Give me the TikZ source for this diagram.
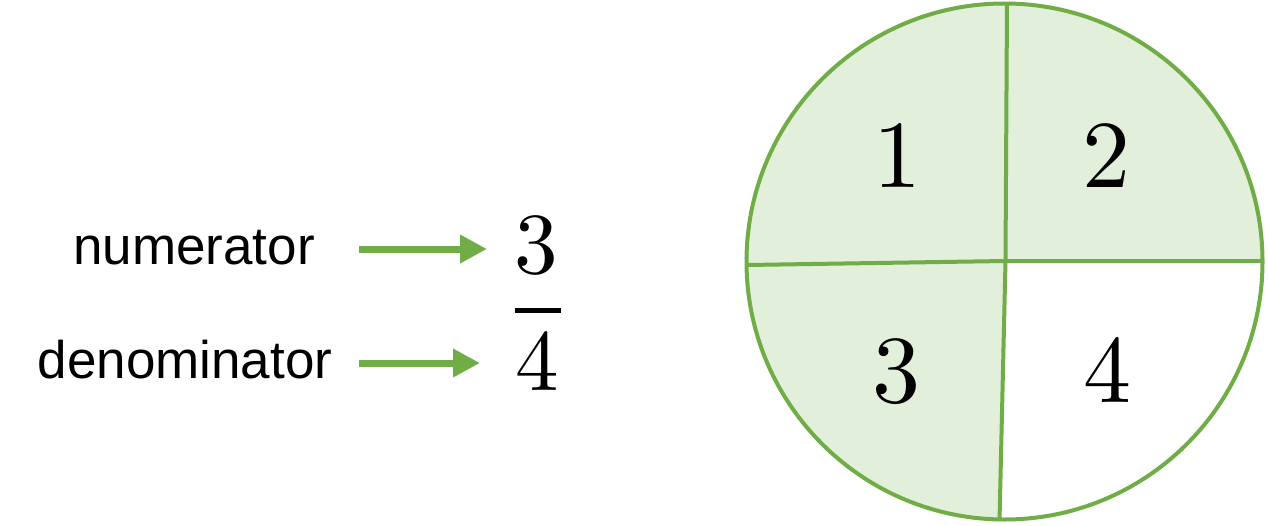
\documentclass[tikz,border=0pt]{standalone}
\usepackage{fontspec}
\newfontfamily\labfont{Liberation Sans}
\newfontfamily\digitfont{lmroman10-regular.otf}
\usetikzlibrary{arrows.meta}
\definecolor{ggreen}{HTML}{70AD47}
\definecolor{lgreen}{HTML}{E2EFDA}
\begin{document}
\begin{tikzpicture}[x=1pt,y=-1pt,
  lab/.style={font=\labfont\fontsize{53}{60}\selectfont, inner sep=0pt, anchor=base},
  bigdigit/.style={font=\digitfont\fontsize{96}{100}\selectfont, inner sep=0pt, anchor=base},
  fracdigit/.style={font=\digitfont\fontsize{87}{90}\selectfont, inner sep=0pt, anchor=base},
  greenarrow/.style={draw=ggreen, line width=7pt, -{Triangle[length=27pt,width=27pt]}},
  divline/.style={draw=ggreen, line width=4pt}]
\useasboundingbox (0,0) rectangle (1269,525);
\fill[white] (0,0) rectangle (1269,525);
% circle
\coordinate (c) at (1004.5,261.5);
\coordinate (o) at (1005.5,261);
\coordinate (top) at (1007,3);
\coordinate (bot) at (999.5,521);
\coordinate (lft) at (747,265);
\coordinate (rgt) at (1262,261);
\fill[lgreen] (c) circle[radius=258];
\begin{scope}
  \clip (c) circle[radius=258];
  \fill[white] (o) -- (1275,261) -- (1275,535) -- (999,535) -- cycle;
\end{scope}
\draw[divline] (top) -- (o) -- (bot);
\draw[divline] (lft) -- (o) -- (rgt);
\draw[ggreen, line width=4pt] (c) circle[radius=258];
% digits in circle
\node[bigdigit] (q1) at (897,187) {1};
\node[bigdigit] (q2) at (1106,187) {2};
\node[bigdigit] (q3) at (896,402) {3};
\node[bigdigit] (q4) at (1107,402) {4};
% labels
\node[lab] (num) at (194,264) {numerator};
\node[lab] (den) at (185,378) {denominator};
% fraction
\node[fracdigit] (n3) at (536,273) {3};
\node[fracdigit] (d4) at (537,390) {4};
\coordinate (barl) at (515,310);
\coordinate (barr) at (561,310);
\draw[line width=5pt] (barl) -- (barr);
% arrows
\coordinate (a1s) at (359,249);
\coordinate (a1e) at (487,249);
\coordinate (a2s) at (359,363);
\coordinate (a2e) at (480,363);
\draw[greenarrow] (a1s) -- (a1e);
\draw[greenarrow] (a2s) -- (a2e);
\end{tikzpicture}
\end{document}
